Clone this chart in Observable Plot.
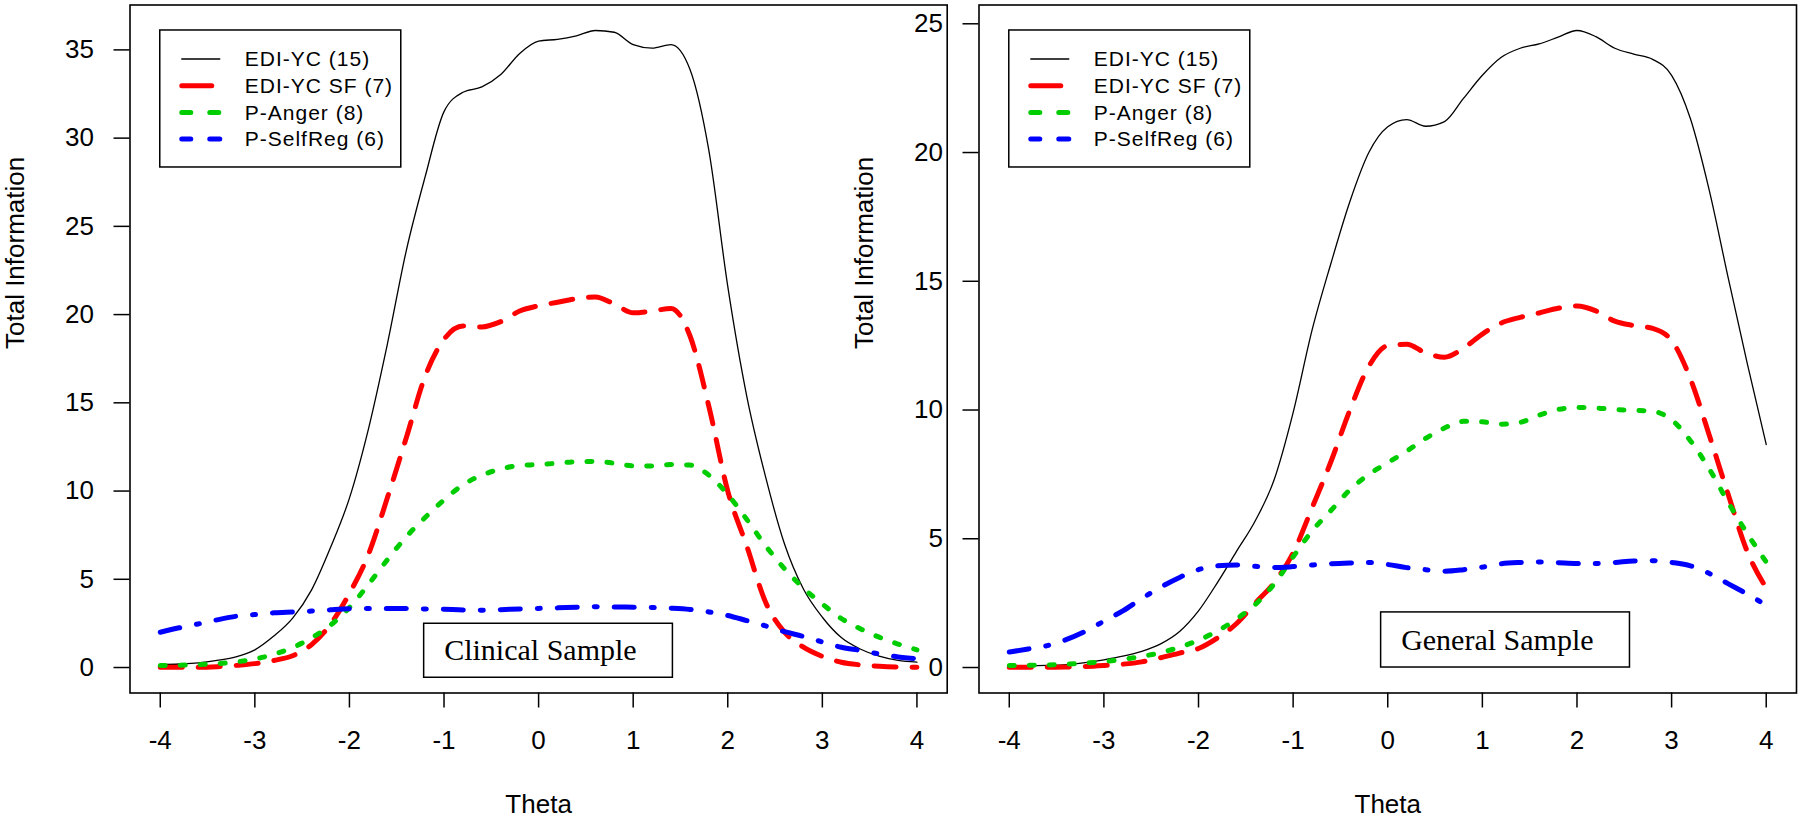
<!DOCTYPE html>
<html><head><meta charset="utf-8">
<script src="https://cdn.jsdelivr.net/npm/d3@7"></script>
<script src="https://cdn.jsdelivr.net/npm/@observablehq/plot@0.6"></script>
<style>
html,body{margin:0;padding:0;background:#fff;}
#wrap{position:relative;width:1800px;height:819px;overflow:hidden;background:#fff;}
#wrap svg{position:absolute;top:0;}
</style></head><body><div id="wrap"></div>
<script>
// ---------- data ----------
const theta = [-4.0,-3.8,-3.6,-3.4,-3.2,-3.0,-2.8,-2.6,-2.4,-2.2,-2.0,-1.8,-1.6,-1.4,-1.2,-1.0,-0.8,-0.6,-0.4,-0.2,0.0,0.2,0.4,0.6,0.8,1.0,1.2,1.4,1.6,1.8,2.0,2.2,2.4,2.6,2.8,3.0,3.2,3.4,3.6,3.8,4.0];
const seriesNames = ["EDI-YC (15)", "EDI-YC SF (7)", "P-Anger (8)", "P-SelfReg (6)"];
const xTicks = [-4,-3,-2,-1,0,1,2,3,4];
const clinicalYTicks = [0,5,10,15,20,25,30,35];
const generalYTicks = [0,5,10,15,20,25];

// Clinical sample
const clinicalEdi = [0.17,0.2,0.26,0.4,0.6,1.0,1.78,2.8,4.4,6.8,9.6,13.5,18.3,23.6,27.8,31.5,32.6,32.9,33.6,34.8,35.5,35.6,35.8,36.1,36.0,35.3,35.1,35.3,33.9,29.3,21.6,15.4,10.8,7.0,4.45,2.85,1.7,1.05,0.64,0.4,0.3];
const clinicalEdiSF = [0.02,0.02,0.02,0.05,0.12,0.22,0.4,0.67,1.3,2.45,4.2,6.4,9.6,13.0,16.5,18.6,19.35,19.3,19.6,20.2,20.5,20.7,20.9,21.0,20.6,20.1,20.2,20.35,18.8,14.8,10.0,6.9,3.7,2.0,1.15,0.63,0.3,0.15,0.07,0.03,0.02];
const clinicalAnger = [0.11,0.13,0.16,0.22,0.32,0.48,0.75,1.13,1.68,2.4,3.4,4.7,6.1,7.4,8.5,9.5,10.35,10.9,11.25,11.45,11.5,11.58,11.66,11.67,11.58,11.43,11.42,11.5,11.47,10.9,9.8,8.4,6.9,5.6,4.5,3.6,2.78,2.2,1.72,1.33,1.0];
const clinicalSelfReg = [2.0,2.25,2.47,2.7,2.9,3.0,3.1,3.15,3.2,3.27,3.33,3.35,3.35,3.34,3.32,3.3,3.26,3.25,3.28,3.32,3.35,3.38,3.42,3.44,3.43,3.42,3.4,3.36,3.29,3.15,2.95,2.66,2.36,2.03,1.76,1.45,1.15,0.97,0.77,0.6,0.5];

// General sample
const generalEdi = [0.05,0.07,0.08,0.11,0.19,0.3,0.44,0.63,0.92,1.4,2.2,3.3,4.5,5.7,7.3,9.9,13.1,15.7,18.1,20.0,21.0,21.28,21.02,21.2,22.1,23.0,23.7,24.05,24.22,24.48,24.74,24.5,24.05,23.82,23.62,23.0,21.3,18.5,15.1,11.8,8.66];
const generalEdiSF = [0.01,0.01,0.01,0.02,0.04,0.08,0.13,0.22,0.38,0.56,0.74,1.15,1.7,2.5,3.3,4.45,6.2,8.0,10.0,11.7,12.5,12.55,12.22,12.05,12.4,12.95,13.38,13.6,13.77,13.95,14.04,13.85,13.45,13.28,13.17,12.7,11.2,9.0,6.7,4.5,3.09];
const generalAnger = [0.08,0.09,0.1,0.13,0.17,0.23,0.32,0.43,0.58,0.79,1.06,1.42,1.88,2.45,3.25,4.3,5.3,6.1,6.9,7.5,7.95,8.4,8.9,9.3,9.56,9.54,9.45,9.52,9.8,10.02,10.1,10.08,10.02,9.99,9.95,9.62,8.8,7.7,6.4,5.2,4.1];
const generalSelfReg = [0.6,0.72,0.85,1.08,1.4,1.8,2.2,2.68,3.12,3.5,3.8,3.95,3.98,3.93,3.88,3.92,3.98,4.03,4.06,4.08,4.0,3.88,3.8,3.74,3.8,3.9,4.03,4.08,4.1,4.07,4.04,4.04,4.08,4.14,4.15,4.08,3.95,3.65,3.25,2.85,2.42];

// sample label boxes (data coordinates)
const clinicalBox = {label: "Clinical Sample", x1: -1.21, x2: 1.42, y1: -0.58, y2: 2.48};
const generalBox = {label: "General Sample", x1: -0.07, x2: 2.56, y1: 0.0, y2: 2.14};

// ---------- styles ----------
const lineStyles = [
  {stroke: "#000000", strokeWidth: 1.3, strokeDasharray: null, legendDash: null},
  {stroke: "#FF0000", strokeWidth: 5, strokeDasharray: "22,16", legendDash: "30,100"},
  {stroke: "#00CD00", strokeWidth: 5, strokeDasharray: "5,15", legendDash: "9,19"},
  {stroke: "#0000FF", strokeWidth: 5, strokeDasharray: "20,17,3,17", legendDash: "9,19,16,100"}
];
const SANS = "'Liberation Sans', Arial, Helvetica, sans-serif";
const SERIF = "'Liberation Serif', 'Times New Roman', serif";

function panel({series, yTicks, box, left, width, marginLeft, marginRight}) {
  const rows = [];
  series.forEach((vals, i) => vals.forEach((v, j) => rows.push({series: seriesNames[i], theta: theta[j], info: v})));
  const ymax = d3.max(rows, d => d.info);
  const [tmin, tmax] = d3.extent(theta);
  const xpad = 0.04 * (tmax - tmin);
  const chart = Plot.plot({
    width, height: 819, marginLeft, marginRight, marginTop: 4.5, marginBottom: 126.5,
    style: {background: "transparent", overflow: "visible", fontFamily: SANS, color: "black"},
    x: {domain: [tmin - xpad, tmax + xpad]},
    y: {domain: [-0.04 * ymax, 1.04 * ymax]},
    marks: [
      Plot.rect([box], {x1: "x1", x2: "x2", y1: "y1", y2: "y2", fill: "white", stroke: "black", strokeWidth: 1.5}),
      Plot.text([box], {x: "x1", y: d => (d.y1 + d.y2) / 2, text: "label", dx: 20, textAnchor: "start", fontFamily: SERIF, fontSize: 30, fill: "black"}),
      ...seriesNames.map((name, i) => Plot.line(rows.filter(d => d.series === name), {
        x: "theta", y: "info", stroke: lineStyles[i].stroke, strokeWidth: lineStyles[i].strokeWidth,
        strokeDasharray: lineStyles[i].strokeDasharray, strokeLinecap: "round", strokeLinejoin: "round", curve: "monotone-x"
      })),
      Plot.frame({stroke: "black", strokeWidth: 1.6}),
      Plot.axisX({ticks: xTicks, tickFormat: d => String(d), tickSize: 15, tickPadding: 23, fontSize: 26, label: null, strokeWidth: 1.5}),
      Plot.axisY({ticks: yTicks, tickFormat: d => String(d), tickSize: 16, tickPadding: 20, fontSize: 26, label: null, strokeWidth: 1.5}),
      Plot.text(["Theta"], {text: d => d, frameAnchor: "bottom", dy: 120, lineAnchor: "bottom", fontSize: 26, fill: "black"}),
      Plot.text(["Total Information"], {text: d => d, frameAnchor: "left", dx: -114, rotate: -90, fontSize: 26, fill: "black"})
    ]
  });
  chart.style.left = left + "px";
  // legend, anchored at (min theta, max information) through the plot's scales
  const sx = chart.scale("x"), sy = chart.scale("y");
  const lx = sx.apply(tmin), ly = sy.apply(ymax);
  const g = d3.select(chart).append("g").attr("transform", `translate(${lx},${ly})`);
  g.append("rect").attr("width", 241).attr("height", 137).attr("fill", "white").attr("stroke", "black").attr("stroke-width", 1.5);
  seriesNames.forEach((name, i) => {
    const yy = 29 + i * 26.7;
    const st = lineStyles[i];
    g.append("line").attr("x1", 22).attr("x2", 60).attr("y1", yy).attr("y2", yy)
      .attr("stroke", st.stroke).attr("stroke-width", st.strokeWidth)
      .attr("stroke-linecap", "round").attr("stroke-dasharray", st.legendDash);
    g.append("text").attr("x", 85).attr("y", yy).attr("dy", "0.35em").attr("text-anchor", "start")
      .attr("font-family", SANS).attr("font-size", 21).attr("letter-spacing", "1px").attr("fill", "black").text(name);
  });
  return chart;
}

const wrap = document.getElementById("wrap");
wrap.appendChild(panel({series: [clinicalEdi, clinicalEdiSF, clinicalAnger, clinicalSelfReg], yTicks: clinicalYTicks, box: clinicalBox, left: 0, width: 960, marginLeft: 129.5, marginRight: 13.3}));
wrap.appendChild(panel({series: [generalEdi, generalEdiSF, generalAnger, generalSelfReg], yTicks: generalYTicks, box: generalBox, left: 840, width: 960, marginLeft: 138.5, marginRight: 4}));
</script>
</body></html>
